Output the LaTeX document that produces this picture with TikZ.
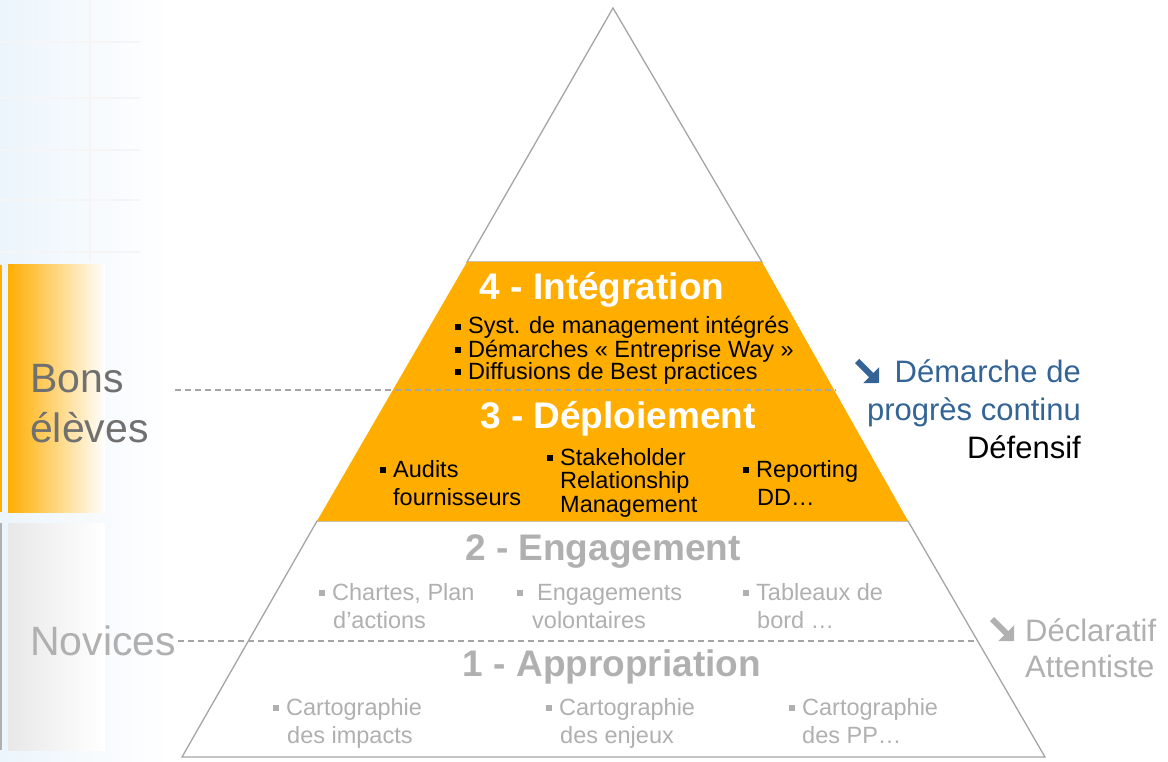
\documentclass[tikz,border=0pt]{standalone}
\usepackage{fontspec}
\setmainfont{Liberation Sans}
\usetikzlibrary{arrows.meta}
\definecolor{orng}{RGB}{255,174,0}
\definecolor{outl}{RGB}{165,165,165}
\definecolor{lgray}{RGB}{176,176,176}
\definecolor{dgray}{RGB}{112,112,112}
\definecolor{blu}{RGB}{52,100,150}
\definecolor{bgblue}{RGB}{236,245,252}
\newcommand\blt{\rule[4pt]{6pt}{6pt}}
\tikzset{
  ln/.style={anchor=base west, inner sep=0pt},
  lnr/.style={anchor=base east, inner sep=0pt},
  ttl/.style={anchor=base, inner sep=0pt, font=\fontsize{37}{37}\selectfont\bfseries},
  itm/.style={ln, font=\fontsize{23.5}{23.5}\selectfont},
  big/.style={ln, font=\fontsize{41}{41}\selectfont},
  side/.style={font=\fontsize{31}{31}\selectfont},
  dsh/.style={outl, line width=1.3pt, dash pattern=on 6pt off 4pt},
  heavy/.style={line width=6pt, -{Triangle[length=11pt,width=22pt]}},
}
\begin{document}
\begin{tikzpicture}[x=1pt,y=-1pt]
\useasboundingbox (0,0) rectangle (1168,762);
% background
\shade[left color=bgblue, right color=white] (0,0) rectangle (170,762);
\foreach \yy in {42,98,150,200,252} \draw[black!4, line width=2pt] (0,\yy) -- (140,\yy);
\foreach \xx in {36,90} \draw[black!4, line width=2pt] (\xx,0) -- (\xx,262);
% left bars
\fill[orng] (0,265) rectangle (2,512);
\shade[left color=orng, right color=white] (8,265) rectangle (105,512);
\fill[lgray] (0,523) rectangle (1.5,750);
\shade[left color=black!9, right color=white] (8,523) rectangle (105,750);
% pyramid
\coordinate (apex) at (613,8);
\coordinate (t4l) at (467,262); \coordinate (t4r) at (762,262);
\coordinate (t3l) at (317,521); \coordinate (t3r) at (908,521);
\coordinate (bl) at (182,757); \coordinate (br) at (1045,757);
\filldraw[fill=white, draw=outl, line width=1.3pt] (apex) -- (t4r) -- (t4l) -- cycle;
\filldraw[fill=white, draw=outl, line width=1.3pt] (t3l) -- (t3r) -- (br) -- (bl) -- cycle;
\fill[orng] (t4l) -- (t4r) -- (t3r) -- (t3l) -- cycle;
% dashed lines
\coordinate (d1a) at (175,390); \coordinate (d1b) at (836,390);
\coordinate (d2a) at (178,641); \coordinate (d2b) at (978,641);
\draw[dsh] (d1a) -- (d1b);
\draw[dsh] (d2a) -- (d2b);
% left labels
\node[big, text=dgray] (bons) at (30,392) {Bons};
\node[big, text=dgray] (eleves) at (30,442) {élèves};
\node[big, text=lgray] (nov) at (30,655) {Novices};
% level 4
\node[ttl, text=white] (l4) at (602,300) {4 - Intégration};
\node[itm] (i41) at (455,334) {\blt\hspace{7pt}Syst. de management intégrés};
\node[itm] (i42) at (455,357) {\blt\hspace{7pt}Démarches « Entreprise Way »};
\node[itm] (i43) at (455,379) {\blt\hspace{7pt}Diffusions de Best practices};
% level 3
\node[ttl, text=white] (l3) at (618,428) {3 - Déploiement};
\node[itm] (a1) at (380,477) {\blt\hspace{7pt}Audits};
\node[itm] (a2) at (393,505) {fournisseurs};
\node[itm] (s1) at (547,465) {\blt\hspace{7pt}Stakeholder};
\node[itm] (s2) at (560,488) {Relationship};
\node[itm] (s3) at (560,512) {Management};
\node[itm] (r1) at (743,477) {\blt\hspace{7pt}Reporting};
\node[itm] (r2) at (757,505) {DD…};
% level 2
\node[ttl, text=lgray] (l2) at (603,560) {2 - Engagement};
\node[itm, text=lgray] (c1) at (319,600) {\blt\hspace{7pt}Chartes, Plan};
\node[itm, text=lgray] (c2) at (333,628) {d’actions};
\node[itm, text=lgray] (e1) at (517,600) {\blt\hspace{14pt}Engagements};
\node[itm, text=lgray] (e2) at (532,628) {volontaires};
\node[itm, text=lgray] (t1) at (743,600) {\blt\hspace{7pt}Tableaux de};
\node[itm, text=lgray] (t2) at (757,628) {bord …};
% level 1
\node[ttl, text=lgray] (l1) at (612,676) {1 - Appropriation};
\node[itm, text=lgray] (p1) at (273,715) {\blt\hspace{7pt}Cartographie};
\node[itm, text=lgray] (p2) at (287,743) {des impacts};
\node[itm, text=lgray] (q1) at (546,715) {\blt\hspace{7pt}Cartographie};
\node[itm, text=lgray] (q2) at (560,743) {des enjeux};
\node[itm, text=lgray] (u1) at (789,715) {\blt\hspace{7pt}Cartographie};
\node[itm, text=lgray] (u2) at (802,743) {des PP…};
% right labels
\node[lnr, side, text=blu] (dm1) at (1081,382) {Démarche de};
\node[lnr, side, text=blu] (dm2) at (1081,420) {progrès continu};
\node[lnr, side] (def) at (1081,458) {Défensif};
\coordinate (ar1a) at (857,361); \coordinate (ar1b) at (879,383);
\draw[heavy, blu] (ar1a) -- (ar1b);
\node[ln, side, text=lgray] (dc1) at (1025,641) {Déclaratif};
\node[ln, side, text=lgray] (dc2) at (1025,677) {Attentiste};
\coordinate (ar2a) at (992,619); \coordinate (ar2b) at (1014,641);
\draw[heavy, lgray] (ar2a) -- (ar2b);
\end{tikzpicture}
\end{document}
